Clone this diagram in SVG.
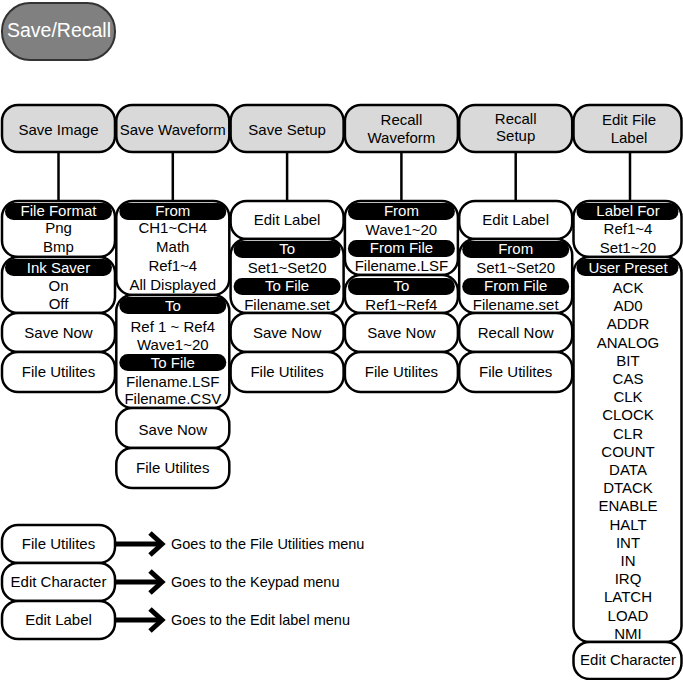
<svg xmlns="http://www.w3.org/2000/svg" width="683" height="680" viewBox="0 0 683 680">
<style>
text{font-family:"Liberation Sans",Arial,sans-serif;font-size:15px;text-anchor:middle;fill:#000}
.w{fill:#fff}
.d{text-anchor:start;font-size:14.5px}
.hdr{fill:#d9d9d9;stroke:#000;stroke-width:2.5}
.box{fill:#fff;stroke:#000;stroke-width:2.5}
.pill{fill:#000}
.con{stroke:#000;stroke-width:2.5;fill:none}
.arr{stroke:#000;stroke-width:5;fill:none}
</style>
<g id="save-recall">
<rect x="2" y="3" width="113" height="57" rx="28" fill="#808080" stroke="#333" stroke-width="2"/>
<text x="59" y="37" class="w" style="font-size:19.5px">Save/Recall</text>
</g>
<g id="connectors">
<line class="con" x1="58.5" y1="152" x2="58.5" y2="202"/>
<line class="con" x1="172.8" y1="152" x2="172.8" y2="202"/>
<line class="con" x1="287.1" y1="152" x2="287.1" y2="202"/>
<line class="con" x1="401.4" y1="152" x2="401.4" y2="202"/>
<line class="con" x1="515.7" y1="152" x2="515.7" y2="202"/>
<line class="con" x1="630" y1="152" x2="630" y2="202"/>
<line class="arr" x1="115" y1="544" x2="160" y2="544"/>
<polyline class="arr" points="150,533 162,544 150,555"/>
<line class="arr" x1="115" y1="582" x2="160" y2="582"/>
<polyline class="arr" points="150,571 162,582 150,593"/>
<line class="arr" x1="115" y1="620" x2="160" y2="620"/>
<polyline class="arr" points="150,609 162,620 150,631"/>
</g>
<!-- headers -->
<g id="h-save-image"><rect class="hdr" x="2" y="105" width="113" height="47" rx="16"/><text x="58.5" y="135">Save Image</text></g>
<g id="h-save-waveform"><rect class="hdr" x="116.3" y="105" width="113" height="47" rx="16"/><text x="172.8" y="135">Save Waveform</text></g>
<g id="h-save-setup"><rect class="hdr" x="230.6" y="105" width="113" height="47" rx="16"/><text x="287.1" y="135">Save Setup</text></g>
<g id="h-recall-waveform"><rect class="hdr" x="344.9" y="105" width="113" height="47" rx="16"/><text x="401.4" y="125">Recall</text><text x="401.4" y="143">Waveform</text></g>
<g id="h-recall-setup"><rect class="hdr" x="459.2" y="105" width="113" height="47" rx="16"/><text x="515.7" y="124">Recall</text><text x="515.7" y="141">Setup</text></g>
<g id="h-edit-file-label"><rect class="hdr" x="573.5" y="105" width="108" height="47" rx="16"/><text x="629" y="125">Edit File</text><text x="629" y="143">Label</text></g>
<!-- Save Image column -->
<g id="si-format"><rect class="box" x="2" y="201" width="113" height="56" rx="16"/><rect class="pill" x="5" y="203" width="107" height="17" rx="8.5"/><text class="w" x="58.5" y="216">File Format</text><text x="58.5" y="233">Png</text><text x="58.5" y="252">Bmp</text></g>
<g id="si-ink"><rect class="box" x="2" y="257" width="113" height="56" rx="16"/><rect class="pill" x="5" y="259" width="107" height="17" rx="8.5"/><text class="w" x="58.5" y="273">Ink Saver</text><text x="58.5" y="291">On</text><text x="58.5" y="309">Off</text></g>
<g id="si-savenow"><rect class="box" x="2" y="313" width="113" height="39" rx="16"/><text x="58.5" y="338">Save Now</text></g>
<g id="si-util"><rect class="box" x="2" y="352" width="113" height="40" rx="16"/><text x="58.5" y="377">File Utilites</text></g>
<!-- Save Waveform column -->
<g id="sw-from"><rect class="box" x="116.3" y="201" width="113" height="94" rx="16"/><rect class="pill" x="119.3" y="203" width="107" height="17" rx="8.5"/><text class="w" x="172.8" y="216">From</text><text x="172.8" y="233">CH1~CH4</text><text x="172.8" y="252">Math</text><text x="172.8" y="271">Ref1~4</text><text x="172.8" y="290">All Displayed</text></g>
<g id="sw-to"><rect class="box" x="116.3" y="295" width="113" height="113" rx="16"/><rect class="pill" x="119.3" y="297" width="107" height="17" rx="8.5"/><text class="w" x="172.8" y="311">To</text><text x="172.8" y="332">Ref 1 ~ Ref4</text><text x="172.8" y="350">Wave1~20</text><rect class="pill" x="119.3" y="354" width="107" height="17" rx="8.5"/><text class="w" x="172.8" y="368">To File</text><text x="172.8" y="387">Filename.LSF</text><text x="172.8" y="404">Filename.CSV</text></g>
<g id="sw-savenow"><rect class="box" x="116.3" y="408" width="113" height="40" rx="16"/><text x="172.8" y="435">Save Now</text></g>
<g id="sw-util"><rect class="box" x="116.3" y="448" width="113" height="40" rx="16"/><text x="172.8" y="473">File Utilites</text></g>
<!-- Save Setup column -->
<g id="ss-edit"><rect class="box" x="230.6" y="201" width="113" height="38" rx="16"/><text x="287.1" y="225">Edit Label</text></g>
<g id="ss-to"><rect class="box" x="230.6" y="239" width="113" height="74" rx="16"/><rect class="pill" x="233.6" y="241" width="107" height="17" rx="8.5"/><text class="w" x="287.1" y="254">To</text><text x="287.1" y="273">Set1~Set20</text><rect class="pill" x="233.6" y="278" width="107" height="17" rx="8.5"/><text class="w" x="287.1" y="291">To File</text><text x="287.1" y="310">Filename.set</text></g>
<g id="ss-savenow"><rect class="box" x="230.6" y="313" width="113" height="39" rx="16"/><text x="287.1" y="338">Save Now</text></g>
<g id="ss-util"><rect class="box" x="230.6" y="352" width="113" height="40" rx="16"/><text x="287.1" y="377">File Utilites</text></g>
<!-- Recall Waveform column -->
<g id="rw-from"><rect class="box" x="344.9" y="201" width="113" height="74" rx="16"/><rect class="pill" x="347.9" y="203" width="107" height="17" rx="8.5"/><text class="w" x="401.4" y="216">From</text><text x="401.4" y="235">Wave1~20</text><rect class="pill" x="347.9" y="240" width="107" height="17" rx="8.5"/><text class="w" x="401.4" y="253">From File</text><text x="401.4" y="271">Filename.LSF</text></g>
<g id="rw-to"><rect class="box" x="344.9" y="275" width="113" height="38" rx="16"/><rect class="pill" x="347.9" y="278" width="107" height="17" rx="8.5"/><text class="w" x="401.4" y="291">To</text><text x="401.4" y="310">Ref1~Ref4</text></g>
<g id="rw-savenow"><rect class="box" x="344.9" y="313" width="113" height="39" rx="16"/><text x="401.4" y="338">Save Now</text></g>
<g id="rw-util"><rect class="box" x="344.9" y="352" width="113" height="40" rx="16"/><text x="401.4" y="377">File Utilites</text></g>
<!-- Recall Setup column -->
<g id="rs-edit"><rect class="box" x="459.2" y="201" width="113" height="38" rx="16"/><text x="515.7" y="225">Edit Label</text></g>
<g id="rs-from"><rect class="box" x="459.2" y="239" width="113" height="74" rx="16"/><rect class="pill" x="462.2" y="241" width="107" height="17" rx="8.5"/><text class="w" x="515.7" y="254">From</text><text x="515.7" y="273">Set1~Set20</text><rect class="pill" x="462.2" y="278" width="107" height="17" rx="8.5"/><text class="w" x="515.7" y="291">From File</text><text x="515.7" y="310">Filename.set</text></g>
<g id="rs-recallnow"><rect class="box" x="459.2" y="313" width="113" height="39" rx="16"/><text x="515.7" y="338">Recall Now</text></g>
<g id="rs-util"><rect class="box" x="459.2" y="352" width="113" height="40" rx="16"/><text x="515.7" y="377">File Utilites</text></g>
<!-- Edit File Label column -->
<g id="el-labelfor"><rect class="box" x="573.5" y="201" width="108" height="56" rx="16"/><rect class="pill" x="576.5" y="203" width="102" height="17" rx="8.5"/><text class="w" x="628" y="216">Label For</text><text x="628" y="234">Ref1~4</text><text x="628" y="253">Set1~20</text></g>
<g id="el-preset"><rect class="box" x="573.5" y="257" width="108" height="385" rx="16"/><rect class="pill" x="576.5" y="259" width="102" height="17" rx="8.5"/><text class="w" x="628" y="273">User Preset</text>
<text x="628" y="293">ACK</text><text x="628" y="311.2">AD0</text><text x="628" y="329.4">ADDR</text><text x="628" y="347.6">ANALOG</text><text x="628" y="365.8">BIT</text><text x="628" y="384">CAS</text><text x="628" y="402.2">CLK</text><text x="628" y="420.4">CLOCK</text><text x="628" y="438.6">CLR</text><text x="628" y="456.8">COUNT</text><text x="628" y="475">DATA</text><text x="628" y="493.2">DTACK</text><text x="628" y="511.4">ENABLE</text><text x="628" y="529.6">HALT</text><text x="628" y="547.8">INT</text><text x="628" y="566">IN</text><text x="628" y="584.2">IRQ</text><text x="628" y="602.4">LATCH</text><text x="628" y="620.6">LOAD</text><text x="628" y="638.8">NMI</text></g>
<g id="el-editchar"><rect class="box" x="573.5" y="642" width="108" height="37" rx="16"/><text x="628" y="665">Edit Character</text></g>
<!-- Legend -->
<g id="lg-util"><rect class="box" x="2" y="525" width="113" height="38" rx="16"/><text x="58.5" y="549">File Utilites</text><text class="d" x="171" y="549">Goes to the File Utilities menu</text></g>
<g id="lg-editchar"><rect class="box" x="2" y="563" width="113" height="38" rx="16"/><text x="58.5" y="587">Edit Character</text><text class="d" x="171" y="587">Goes to the Keypad menu</text></g>
<g id="lg-editlabel"><rect class="box" x="2" y="601" width="113" height="38" rx="16"/><text x="58.5" y="625">Edit Label</text><text class="d" x="171" y="625">Goes to the Edit label menu</text></g>
</svg>
